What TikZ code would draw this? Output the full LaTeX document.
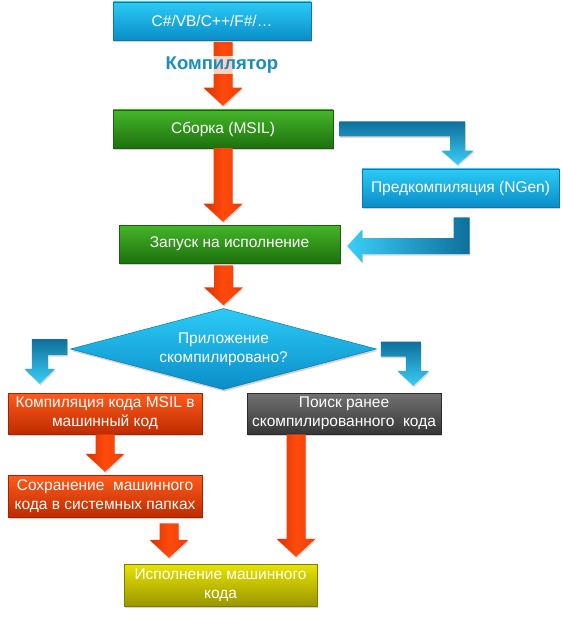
\documentclass[tikz,border=0pt]{standalone}
\usepackage{fontspec}
\setmainfont{Liberation Sans}
\usetikzlibrary{calc,shapes.geometric,shadows}
\definecolor{bluetop}{HTML}{2CCBF6}
\definecolor{bluebot}{HTML}{0A8DC8}
\definecolor{blueline}{HTML}{0A78AA}
\definecolor{greentop}{HTML}{45B62A}
\definecolor{greenbot}{HTML}{1D700D}
\definecolor{greenline}{HTML}{1A5F0C}
\definecolor{redtop}{HTML}{FF5A1C}
\definecolor{redbot}{HTML}{BE2C00}
\definecolor{redline}{HTML}{A02400}
\definecolor{graytop}{HTML}{727272}
\definecolor{graybot}{HTML}{363636}
\definecolor{grayline}{HTML}{2A2A2A}
\definecolor{yeltop}{HTML}{E8E400}
\definecolor{yelbot}{HTML}{999600}
\definecolor{yelline}{HTML}{7E7B00}
\definecolor{arrA}{HTML}{D83200}
\definecolor{arrB}{HTML}{FF4A0C}
\definecolor{arrC}{HTML}{EE3E04}
\definecolor{elbDark}{HTML}{0E6F9C}
\definecolor{elbLight}{HTML}{3ACEF6}
\definecolor{titleblue}{HTML}{1A8DC0}

\newcommand\fatdown[3]{\path[#1] let \p1=#2, \p2=#3 in
  (\x1-9.5pt,\y1) -- (\x1+9.5pt,\y1) -- (\x1+9.5pt,\y2+18pt) -- (\x1+19.5pt,\y2+18pt)
  -- (\x1,\y2) -- (\x1-19.5pt,\y2+18pt) -- (\x1-9.5pt,\y2+18pt) -- cycle;}
% right then down
\newcommand\elbowRD[6]{\path[#1] let \p1=#2, \p2=#3 in
  (\x1,\y1+#4) -- (\x2+#4,\y1+#4) -- (\x2+#4,\y2+#6) -- (\x2+#5,\y2+#6) -- (\x2,\y2)
  -- (\x2-#5,\y2+#6) -- (\x2-#4,\y2+#6) -- (\x2-#4,\y1-#4) -- (\x1,\y1-#4) -- cycle;}
% left then down
\newcommand\elbowLD[6]{\path[#1] let \p1=#2, \p2=#3 in
  (\x1,\y1+#4) -- (\x2-#4,\y1+#4) -- (\x2-#4,\y2+#6) -- (\x2-#5,\y2+#6) -- (\x2,\y2)
  -- (\x2+#5,\y2+#6) -- (\x2+#4,\y2+#6) -- (\x2+#4,\y1-#4) -- (\x1,\y1-#4) -- cycle;}
% down then left
\newcommand\elbowDL[6]{\path[#1] let \p1=#2, \p2=#3 in
  (\x1-#4,\y1) -- (\x1+#4,\y1) -- (\x1+#4,\y2-#4) -- (\x2+#6,\y2-#4) -- (\x2+#6,\y2-#5)
  -- (\x2,\y2) -- (\x2+#6,\y2+#5) -- (\x2+#6,\y2+#4) -- (\x1-#4,\y2+#4) -- cycle;}

\tikzset{
  boxbase/.style={inner sep=2pt, align=center, text=white,
    font=\fontsize{15.5}{19}\selectfont, line width=0.5pt,
    drop shadow={opacity=0.35, shadow xshift=0.8pt, shadow yshift=-2pt}},
  bluebox/.style={rectangle, boxbase, draw=blueline, top color=bluetop, bottom color=bluebot},
  greenbox/.style={rectangle, boxbase, draw=greenline, top color=greentop, bottom color=greenbot},
  redbox/.style={rectangle, boxbase, draw=redline, top color=redtop, bottom color=redbot},
  graybox/.style={rectangle, boxbase, draw=grayline, top color=graytop, bottom color=graybot},
  yelbox/.style={rectangle, boxbase, draw=yelline, top color=yeltop, bottom color=yelbot},
  redarrow/.style={left color=arrA, right color=arrC, middle color=arrB,
    drop shadow={opacity=0.3, shadow xshift=0.8pt, shadow yshift=-1.5pt}},
  elbowV/.style={top color=elbDark, bottom color=elbLight,
    drop shadow={opacity=0.3, shadow xshift=0.8pt, shadow yshift=-1.5pt}},
  elbowH/.style={left color=elbLight, right color=elbDark,
    drop shadow={opacity=0.3, shadow xshift=0.8pt, shadow yshift=-1.5pt}},
}

\begin{document}
\begin{tikzpicture}[x=1pt,y=-1pt]
\useasboundingbox[fill=white] (0,0) rectangle (569,620);

% boxes
\node[bluebox, minimum width=198pt, minimum height=38pt] (src) at (212,21) {C\#/VB/C++/F\#/…};
\node[greenbox, minimum width=220pt, minimum height=38pt] (sborka) at (223,129) {Сборка (MSIL)};
\node[bluebox, minimum width=197pt, minimum height=38pt] (ngen) at (460.5,188) {Предкомпиляция (NGen)};
\node[greenbox, minimum width=221pt, minimum height=38pt] (zapusk) at (229.5,244) {Запуск на исполнение};
\node[boxbase, diamond, aspect=3.8, draw=blueline, top color=bluetop, bottom color=bluebot,
      minimum width=306pt, minimum height=81pt, inner sep=0pt] (q) at (223.5,349)
      {Приложение\\скомпилировано?};
\node[redbox, minimum width=194pt, minimum height=41pt] (comp) at (105,413.5) {Компиляция кода MSIL в\\машинный код};
\node[graybox, minimum width=194pt, minimum height=41pt] (search) at (344,413.5) {Поиск ранее\\скомпилированного\ \ кода};
\node[redbox, minimum width=194pt, minimum height=42pt] (save) at (105,496) {Сохранение\ \ машинного\\кода в системных папках};
\node[yelbox, minimum width=193pt, minimum height=42pt] (exec) at (220.5,585) {Исполнение машинного\\кода};

% connector end points
\coordinate (a1s) at ($(sborka.north |- src.south)+(0,2)$);
\coordinate (a1t) at ($(sborka.north)+(0,-4)$);
\coordinate (a2s) at (sborka.south);
\coordinate (a2t) at ($(zapusk.north -| sborka.south)+(0,-3)$);
\coordinate (a3s) at ($(q.north |- zapusk.south)+(0,2)$);
\coordinate (a3t) at ($(q.north)+(0,-3)$);
\coordinate (a4s) at (comp.south);
\coordinate (a4t) at ($(save.north)+(0,-3)$);
\coordinate (a5s) at ($(save.south)+(64,6)$);
\coordinate (a5x) at ($(save.south)+(64,0)$);
\coordinate (a5t) at ($(a5x |- exec.north)+(0,-6)$);
\coordinate (a6s) at ($(search.south)+(-48,0)$);
\coordinate (a6t) at ($(a6s |- exec.north)+(0,-7)$);
\coordinate (b1s) at ($(sborka.east)+(6,0)$);
\coordinate (b1t) at ($(ngen.north)+(-3,-4)$);
\coordinate (b2s) at ($(ngen.south)+(1,10)$);
\coordinate (b2t) at ($(zapusk.east)+(7,2)$);
\coordinate (c1s) at ($(q.west)+(-3,-2)$);
\coordinate (c1t) at ($(comp.north west)+(32,-9)$);
\coordinate (c2s) at ($(q.east)+(4,0)$);
\coordinate (c2t) at ($(search.north east)+(-28,-7)$);

% red arrows
\fatdown{redarrow}{(a1s)}{(a1t)}
\fatdown{redarrow}{(a2s)}{(a2t)}
\fatdown{redarrow}{(a3s)}{(a3t)}
\fatdown{redarrow}{(a4s)}{(a4t)}
\fatdown{redarrow}{(a5s)}{(a5t)}
\fatdown{redarrow}{(a6s)}{(a6t)}

% blue elbow arrows
\elbowRD{elbowV}{(b1s)}{(b1t)}{7.5pt}{16pt}{14pt}
\elbowDL{elbowH}{(b2s)}{(b2t)}{8pt}{16.5pt}{15pt}
\elbowLD{elbowV}{(c1s)}{(c1t)}{8pt}{15.5pt}{15pt}
\elbowRD{elbowV}{(c2s)}{(c2t)}{7.5pt}{16pt}{15pt}

% compiler label over the first arrow
\node[fill=white, fill opacity=0.75, text opacity=1, text=titleblue, inner sep=1pt,
      font=\fontsize{18.5}{22}\selectfont\bfseries] (complbl) at (222,65) {Компилятор};
\end{tikzpicture}
\end{document}
